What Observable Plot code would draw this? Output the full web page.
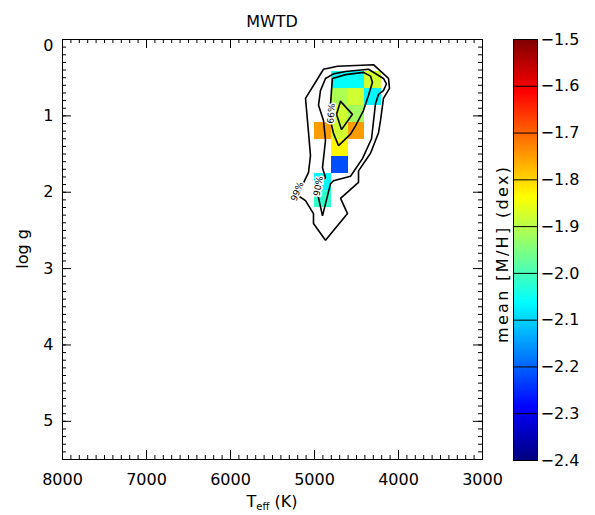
<!DOCTYPE html>
<html>
<head>
<meta charset="utf-8">
<script src="https://cdn.jsdelivr.net/npm/d3@7"></script>
<script src="https://cdn.jsdelivr.net/npm/@observablehq/plot@0.6"></script>
<style>
  html, body { margin: 0; padding: 0; background: white; }
  #wrap { position: relative; width: 595px; height: 515px; overflow: hidden; background: white; }
  #main { position: absolute; left: 0; top: 0; }
  #cbar { position: absolute; left: 490px; top: 0; }
  svg { overflow: visible; }
</style>
</head>
<body>
<div id="wrap"><div id="main"></div><div id="cbar"></div></div>
<script>
// ---------- data ----------
const title = "MWTD";
const xTickLabels = [8000, 7000, 6000, 5000, 4000, 3000];
const yTickLabels = [0, 1, 2, 3, 4, 5];
const cbTickLabels = [-2.4, -2.3, -2.2, -2.1, -2.0, -1.9, -1.8, -1.7, -1.6, -1.5];

// binned cells: centre Teff (K), centre log g, mean [M/H]
const cellTeff = [4700, 4500, 4300, 4700, 4500, 4300, 4700, 4500, 4900, 4700, 4500, 4700, 4700, 4900, 4900];
const cellLogg = [0.536, 0.536, 0.536, 0.759, 0.759, 0.759, 0.981, 0.981, 1.204, 1.204, 1.204, 1.426, 1.649, 1.871, 2.094];
const cellMH   = [-2.06, -2.06, -1.88, -1.91, -1.88, -2.07, -1.88, -1.92, -1.75, -1.88, -1.75, -1.83, -2.22, -2.07, -2.02];

// contour lines [Teff, log g]
const contour99 = [[4893,0.39],[4726,0.35],[4298,0.33],[4119,0.51],[4107,0.64],[4179,0.77],[4214,1.06],[4238,1.22],[4333,1.49],[4476,1.72],[4476,1.87],[4690,2.08],[4607,2.28],[4869,2.63],[5012,2.41],[5012,2.28],[5107,2.11],[5202,2.04],[5071,1.74],[5048,1.52],[5071,1.22],[5107,0.77],[4893,0.39]];
const contour90 = [[4869,0.51],[4774,0.45],[4631,0.42],[4357,0.39],[4179,0.51],[4143,0.58],[4179,0.67],[4238,0.72],[4274,0.84],[4321,1.30],[4429,1.56],[4571,1.79],[4774,1.85],[4810,1.89],[4905,2.31],[4988,1.89],[4869,1.81],[4905,1.68],[4869,1.32],[4893,1.06],[4952,0.86],[4929,0.67],[4869,0.51]];
const contour66 = [[4786,0.51],[4631,0.46],[4417,0.43],[4333,0.48],[4310,0.56],[4357,0.73],[4417,0.93],[4512,1.13],[4571,1.24],[4714,1.39],[4774,1.23],[4810,1.06],[4810,0.86],[4798,0.67],[4786,0.51]];
const contourPeak = [[4690,0.81],[4548,0.98],[4679,1.18],[4738,0.98],[4690,0.81]];

const contourLabelText = ["99%", "90%", "66%"];
const contourLabelTeff = [5205, 4955, 4800];
const contourLabelLogg = [1.99, 1.92, 0.97];
const contourLabelAngle = [-68, -80, -86];

// ---------- helpers ----------
const dT = 200, dG = 0.2225;
const clamp = v => Math.max(0, Math.min(1, v));
function jet(t) {
  const r = clamp(1.5 - Math.abs(4 * t - 3));
  const g = clamp(1.5 - Math.abs(4 * t - 2));
  const b = clamp(1.5 - Math.abs(4 * t - 1));
  return d3.rgb(r * 255, g * 255, b * 255).formatHex();
}
const colorOpts = {type: "linear", domain: [-2.4, -1.5], interpolate: jet};

const cells = cellTeff.map((t, i) => ({teff: t, logg: cellLogg[i], mh: cellMH[i]}));
const labels = contourLabelText.map((s, i) => ({text: s, teff: contourLabelTeff[i], logg: contourLabelLogg[i], a: contourLabelAngle[i]}));
const contours = [contour99, contour90, contour66, contourPeak];

const FONT = "DejaVu Sans";
const W = 500, H = 515, ML = 62, MR = 18, MT = 39, MB = 56;
const FW = W - ML - MR, FH = H - MT - MB;
const xMinor = d3.range(3000, 8001, 100);
const yMinor = d3.range(0, 5.501, 0.1);

const main = Plot.plot({
  width: W, height: H,
  marginLeft: ML, marginRight: MR, marginTop: MT, marginBottom: MB,
  style: {fontFamily: FONT, fontSize: "16px", background: "white", color: "black", overflow: "visible"},
  x: {domain: [8000, 3000]},
  y: {domain: [5.5, 0]},
  color: colorOpts,
  marks: [
    Plot.rect(cells, {
      x1: d => d.teff + dT / 2, x2: d => d.teff - dT / 2,
      y1: d => d.logg - dG / 2, y2: d => d.logg + dG / 2,
      fill: "mh", shapeRendering: "crispEdges"
    }),
    ...contours.map(c => Plot.line(c, {x: d => d[0], y: d => d[1], stroke: "black", strokeWidth: 1.6, strokeLinejoin: "miter"})),
    Plot.text(labels, {x: "teff", y: "logg", text: "text", rotate: "a", fontSize: 9, fill: "black", stroke: "white", strokeWidth: 3}),
    Plot.frame({stroke: "black", strokeWidth: 1}),
    Plot.tickX(xMinor, {x: d => d, insetTop: FH - 4, stroke: "black"}),
    Plot.tickX(xMinor, {x: d => d, insetBottom: FH - 4, stroke: "black"}),
    Plot.tickX(xTickLabels, {x: d => d, insetTop: FH - 9, stroke: "black"}),
    Plot.tickX(xTickLabels, {x: d => d, insetBottom: FH - 9, stroke: "black"}),
    Plot.tickY(yMinor, {y: d => d, insetRight: FW - 4, stroke: "black"}),
    Plot.tickY(yMinor, {y: d => d, insetLeft: FW - 4, stroke: "black"}),
    Plot.tickY(yTickLabels, {y: d => d, insetRight: FW - 9, stroke: "black"}),
    Plot.tickY(yTickLabels, {y: d => d, insetLeft: FW - 9, stroke: "black"}),
    Plot.axisX({ticks: xTickLabels, tickSize: 0, tickPadding: 14, tickFormat: d => String(d), label: null, fontSize: 16}),
    Plot.axisY({ticks: yTickLabels, tickSize: 0, tickPadding: 9, tickFormat: d => String(d), label: null, fontSize: 16})
  ]
});
document.getElementById("main").appendChild(main);

// titles / axis labels as real SVG text
const svg = d3.select(main);
// the top "0" label sits slightly below the frame corner, as in the reference
svg.selectAll("[aria-label='y-axis tick label'] text").filter(function() { return this.textContent === "0"; })
  .attr("transform", function() { return (this.getAttribute("transform") || "") + " translate(0,6)"; });
svg.append("text").attr("x", ML + FW / 2).attr("y", 27).attr("text-anchor", "middle")
  .attr("font-family", FONT).attr("font-size", 16).attr("fill", "black").text(title);
const xl = svg.append("text").attr("x", ML + FW / 2).attr("y", 507).attr("text-anchor", "middle")
  .attr("font-family", FONT).attr("font-size", 16).attr("fill", "black");
xl.append("tspan").text("T");
xl.append("tspan").attr("font-size", 10).attr("dy", 3).text("eff");
xl.append("tspan").attr("dy", -3).text(" (K)");
svg.append("text").attr("transform", `translate(28,${MT + FH / 2}) rotate(-90)`).attr("text-anchor", "middle")
  .attr("font-family", FONT).attr("font-size", 16).attr("fill", "black").text("log g");

// ---------- colour bar ----------
const step = 0.0025;
const grad = d3.range(-2.4, -1.5 - step / 2, step);
const cb = Plot.plot({
  width: 105, height: H,
  marginLeft: 23, marginRight: 58, marginTop: 39, marginBottom: 55,
  style: {fontFamily: FONT, fontSize: "16px", background: "none", color: "black", overflow: "visible"},
  x: {domain: [0, 1], axis: null},
  y: {domain: [-2.4, -1.5]},
  color: colorOpts,
  marks: [
    Plot.rect(grad, {x1: 0, x2: 1, y1: d => d, y2: d => Math.min(-1.5, d + step * 1.5), fill: d => d + step / 2, shapeRendering: "crispEdges"}),
    Plot.ruleY(cbTickLabels, {y: d => d, stroke: "black", strokeWidth: 1}),
    Plot.frame({stroke: "black", strokeWidth: 1}),
    Plot.axisY({anchor: "right", ticks: cbTickLabels, tickSize: 0, tickPadding: 3, tickFormat: d3.format(".1f"), label: null, fontSize: 16}),
    Plot.text(["mean [M/H] (dex)"], {frameAnchor: "left", textAnchor: "middle", dx: -11, dy: 5, rotate: -90, fontSize: 16, fill: "black"})
  ]
});
document.getElementById("cbar").appendChild(cb);
// stretch the colour-bar title to the reference's length
d3.select(cb).selectAll("text").filter(function() { return this.textContent === "mean [M/H] (dex)"; })
  .attr("textLength", 176).attr("lengthAdjust", "spacing");
</script>
</body>
</html>
